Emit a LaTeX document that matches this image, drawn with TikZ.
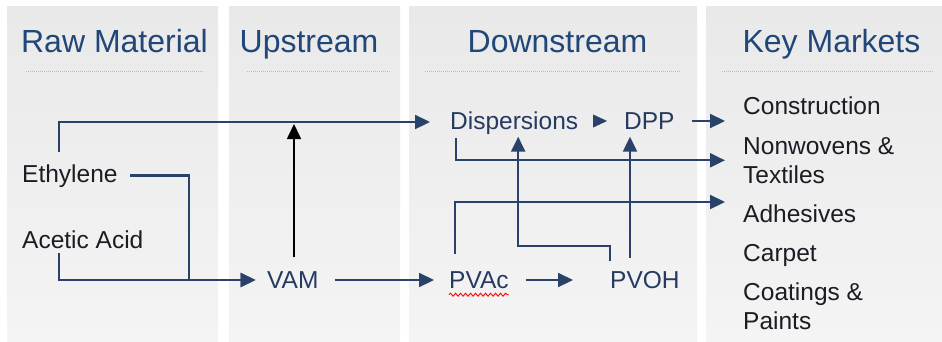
\documentclass[tikz,border=0pt]{standalone}
\usepackage{fontspec}
\setmainfont{Liberation Sans}
\usetikzlibrary{arrows.meta,positioning,calc,decorations.pathmorphing}
\definecolor{headBlue}{RGB}{33,70,120}
\definecolor{flowBlue}{RGB}{40,66,106}
\definecolor{itemBlue}{RGB}{38,58,98}
\definecolor{darkText}{RGB}{28,28,36}
\definecolor{panelTop}{RGB}{233,233,233}
\definecolor{panelBot}{RGB}{244,244,244}
\definecolor{ruleGray}{RGB}{185,185,185}
\tikzset{
  panel/.style={top color=panelTop, bottom color=panelBot, draw=none},
  header/.style={font=\fontsize{32}{36}\selectfont, text=headBlue, inner sep=0pt, text height=23pt, text depth=0pt},
  sepline/.style={ruleGray, line width=0.8pt, dash pattern=on 1pt off 1pt},
  item/.style={font=\fontsize{24.5}{29}\selectfont, inner sep=0pt, text height=17pt, text depth=0pt, anchor=west},
  market/.style={font=\fontsize{24.5}{29}\selectfont, inner sep=0pt, align=left, anchor=north west, text=darkText},
  flow/.style={flowBlue, line width=2.2pt, -{Triangle[length=15pt,width=14pt]}},
}
\begin{document}
\begin{tikzpicture}[x=1pt,y=-1pt]
  \useasboundingbox[fill=white] (0,0) rectangle (942,341);
  % Columns
  \fill[panel] (7,6) rectangle (218,341);
  \fill[panel] (229,6) rectangle (400,341);
  \fill[panel] (409,6) rectangle (697,341);
  \fill[panel] (706,6) rectangle (942,341);

  % Column headers
  \node[header] (hraw) at (114.5,41) {Raw Material};
  \node[header] (hup) at (309,41) {Upstream};
  \node[header] (hdown) at (557.5,41) {Downstream};
  \node[header] (hkey) at (831.5,41) {Key Markets};
  \draw[sepline] (26,71) -- (203,71);
  \draw[sepline] (247,71) -- (390,71);
  \draw[sepline] (425,71) -- (680,71);
  \draw[sepline] (722,71) -- (933,71);

  % Raw material and chain
  \node[item, text=darkText] (eth) at (22,174) {Ethylene};
  \node[item, text=darkText] (acid) at (22,240) {Acetic Acid};
  \node[item, text=itemBlue] (vam) at (267,280) {VAM};
  \node[item, text=itemBlue] (pvac) at (449,280) {PVAc};
  \node[item, text=itemBlue] (pvoh) at (610,280) {PVOH};
  \node[item, text=itemBlue] (disp) at (450,121) {Dispersions};
  \node[item, text=itemBlue] (dpp) at (624,121) {DPP};
  \draw[red, line width=0.9pt, decorate, decoration={snake, amplitude=1.5pt, segment length=5pt}]
    ([yshift=-6pt]pvac.south west) -- ([yshift=-6pt]pvac.south east);

  % Key markets
  \node[market] (constr) at (743,97) {Construction};
  \node[market] (nonw) at (743,137) {Nonwovens \&\\Textiles};
  \node[item, text=darkText] (adh) at (743,214) {Adhesives};
  \node[item, text=darkText] (carp) at (743,252.5) {Carpet};
  \node[market] (coat) at (743,283) {Coatings \&\\Paints};

  % Flows
  \coordinate (vamtip) at (294,124);
  \draw[flow, shorten >=20pt] ([xshift=37pt,yshift=13.5pt]eth.north west) |- ([yshift=-1pt]disp.west);
  \draw[black, line width=1.7pt, -{Triangle[length=15pt,width=14pt]}] ([xshift=27pt,yshift=14pt]vam.north west) -- (vamtip);
  \draw[flow, shorten >=11.5pt] ([xshift=108pt,yshift=-1.5pt]eth.west) -- ++(59,0) |- (vam.west);
  \draw[flow, shorten >=11.5pt] ([xshift=37pt,yshift=-4.5pt]acid.south west) |- (vam.west);
  \draw[flow, shorten <=16pt, shorten >=15pt] (vam.east) -- (pvac.west);
  \draw[flow, shorten <=17pt, shorten >=37pt] (pvac.east) -- (pvoh.west);
  \draw[flow, shorten >=7pt] ([yshift=10pt]pvoh.north west) -- ++(0,-15) -| ([xshift=4pt]disp.south);
  \draw[flow, shorten >=7pt] ([xshift=20pt,yshift=13.5pt]pvoh.north west) -- ([xshift=6pt]dpp.south west);
  \draw[flowBlue, line width=0.4pt, -{Triangle[length=14pt,width=13pt]}, shorten <=16pt, shorten >=17pt] (disp.east) -- (dpp.west);
  \draw[flow, shorten <=17pt, shorten >=18pt] (dpp.east) -- (dpp.east -| constr.west);
  \draw[flow, shorten >=18pt] ([xshift=6pt,yshift=-8.5pt]disp.south west) |- (nonw.west);
  \draw[flow, shorten >=18pt] ([xshift=6pt,yshift=17pt]pvac.north west) |- ([yshift=12pt]adh.west);
\end{tikzpicture}
\end{document}
